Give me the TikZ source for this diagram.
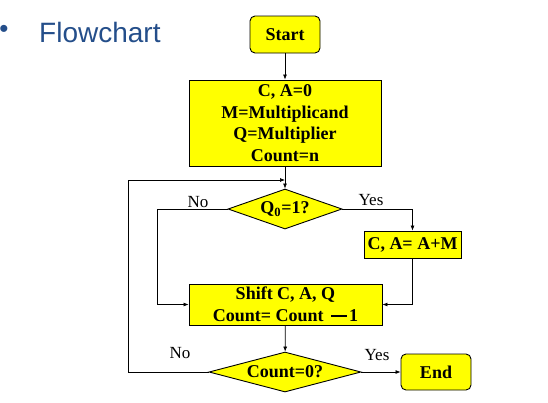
\documentclass[tikz,border=0pt]{standalone}
\usepackage{fontspec}
\setmainfont{Liberation Serif}
\newfontfamily\titlefont{Liberation Sans}
\usepackage{tikz}
\usetikzlibrary{shapes.geometric,arrows.meta}
\usepackage{xcolor}
\definecolor{titleblue}{RGB}{36,78,138}
\definecolor{boxyellow}{RGB}{255,255,0}

\begin{document}
\begin{tikzpicture}[x=1pt, y=-1pt,
  box/.style={draw, line width=0.9pt, fill=boxyellow, inner sep=0pt, align=center,
    font=\fontsize{18}{21.6}\selectfont\bfseries},
  term/.style={box, rounded corners=5pt},
  test/.style={box, diamond},
  lbl/.style={font=\fontsize{17}{20}\selectfont, inner sep=0pt},
  arr/.style={-{Latex[length=5pt,width=4pt]}, line width=0.7pt}]
\useasboundingbox (0,0) rectangle (548,402);

% Title
\node[titleblue, font=\titlefont\fontsize{26}{30}\selectfont, inner sep=0pt] (bullet) at (4,31.5) {•};
\node[titleblue, font=\titlefont\fontsize{28}{33}\selectfont, anchor=west, inner sep=0pt] (title) at (39,32) {Flowchart};

% Boxes
\node[term, minimum width=70pt, minimum height=37pt] (start) at (285,34.5) {Start};
\node[box, minimum width=192pt, minimum height=86pt] (init) at (285,123)
  {C, A=0\\M=Multiplicand\\Q=Multiplier\\Count=n};
\node[test, minimum width=114pt, minimum height=40pt, aspect=2.85] (qzero) at (285,209) {Q\textsubscript{0}=1?};
\node[box, minimum width=97pt, minimum height=27pt] (add) at (412.5,244.5) {C, A= A+M};
\node[box, minimum width=193pt, minimum height=41pt] (shift) at (285.5,304.5)
  {Shift C, A, Q\\Count= Count\ \,\rule[5pt]{16pt}{1.8pt}\hspace{2pt}1};
\node[test, minimum width=152pt, minimum height=40pt, aspect=3.8] (count) at (285,372) {Count=0?};
\node[term, minimum width=70pt, minimum height=36pt] (end) at (436,372) {End};

% Labels
\node[lbl] (noone) at (198,202) {No};
\node[lbl] (yesone) at (371,200) {Yes};
\node[lbl] (notwo) at (180,353) {No};
\node[lbl] (yestwo) at (377,355) {Yes};

% Connectors
\coordinate (join) at (285,180);
\coordinate (back) at (128,180);
\draw[arr] (start) -- (init);
\draw[arr] (init) -- (qzero);
\draw[arr] (qzero.west) -- ++(-70,0) |- (shift.west);
\draw[arr] (qzero.east) -| (add.north);
\draw[arr] (add.south) |- (shift.east);
\draw[arr] (shift) -- (count);
\draw[arr] (count) -- (end);
\draw[arr] (count.west) -| (back) -- (join);
\end{tikzpicture}
\end{document}
